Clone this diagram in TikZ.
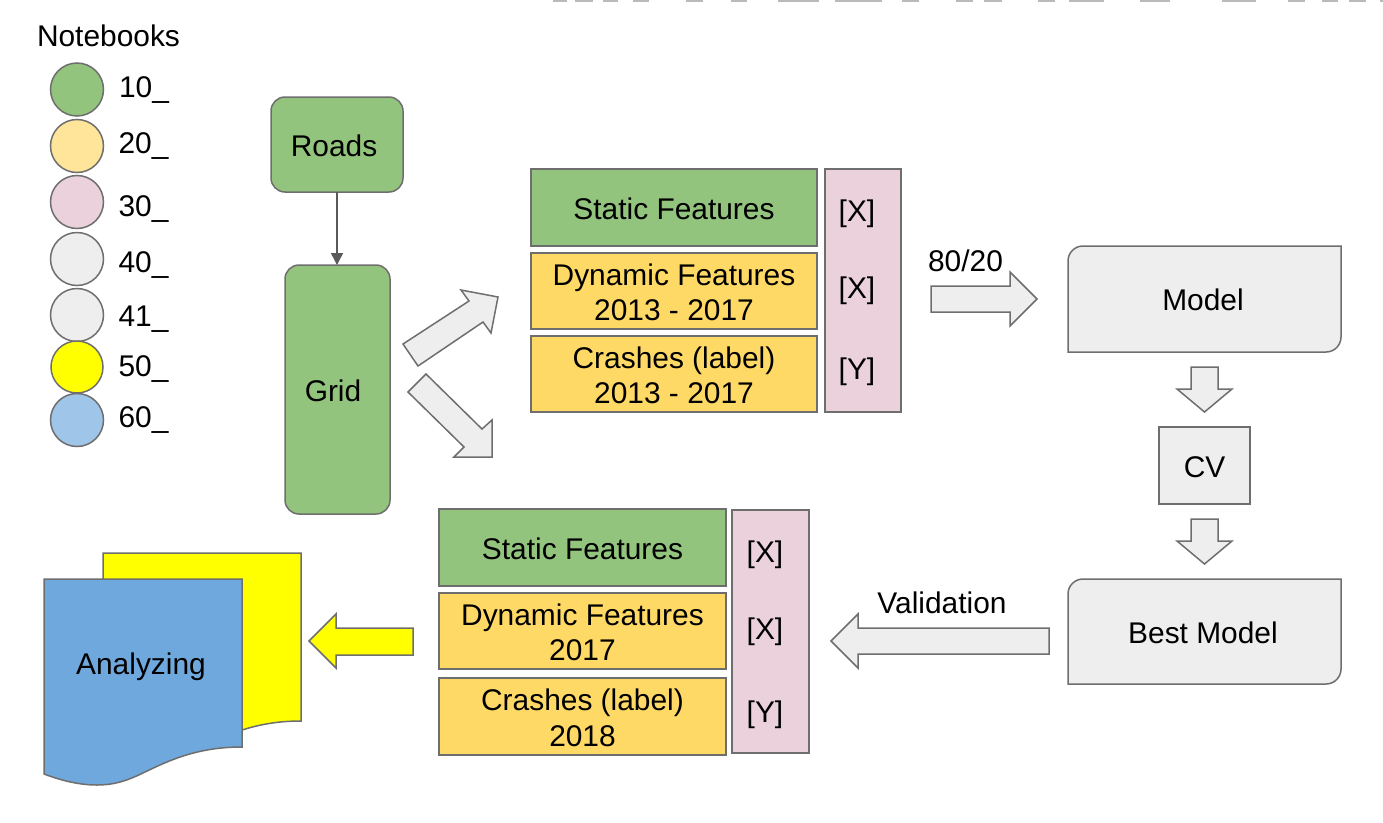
\documentclass[tikz,border=0pt]{standalone}
\usepackage{fontspec}
\setmainfont{Liberation Sans}
\usetikzlibrary{arrows.meta,backgrounds}
\definecolor{bord}{HTML}{6E6E6E}
\definecolor{cgreen}{HTML}{93C47D}
\definecolor{corange}{HTML}{FFD966}
\definecolor{clight}{HTML}{FFE599}
\definecolor{cpink}{HTML}{EAD1DC}
\definecolor{cgrey}{HTML}{EEEEEE}
\definecolor{cyell}{HTML}{FFFF00}
\definecolor{cblue}{HTML}{6FA8DC}
\definecolor{cpale}{HTML}{9FC5E8}
\newcommand{\mstrut}{\rule{0pt}{24pt}}
\tikzset{
  every node/.style={font=\fontsize{29.9}{35.5}\selectfont,text=black,inner sep=0pt,outer sep=0pt},
  outlined/.style={draw=bord,line width=1.5pt,line join=miter},
  legenddot/.style={circle,outlined,minimum size=53pt},
  lbltext/.style={anchor=base west},
  captext/.style={anchor=base},
  rbox/.style={rectangle,rounded corners=14pt,outlined,fill=cgreen,text height=23pt,text depth=0pt},
  sbox/.style={rectangle,outlined,text height=23pt,text depth=0pt},
  mbox/.style={rectangle,outlined,align=center,text depth=0pt},
  ghostbox/.style={rectangle,text height=23pt,text depth=0pt},
  blockarrow/.style={outlined,fill=cgrey},
  docpage/.style={outlined},
  topbar/.style={fill=black!27,draw=none},
}
\newcommand{\docoutline}{(44,579) -- (242,579) -- (242,747) .. controls (198,747) and (170,760) .. (145,772) .. controls (125,782) and (112,785) .. (97,785) .. controls (78,785) and (60,780) .. (44,774) -- cycle}
\begin{document}
\begin{tikzpicture}[x=1pt,y=-1pt]
\useasboundingbox (0,0) rectangle (1383,822);

% cut-off band at the top edge
\foreach \a/\b in {553/567,575/593,603/618,633/649,686/703,731/747,778/819,835/882,902/919,956/973,984/1002,1038/1055,1069/1104,1140/1170,1222/1256,1288/1305,1322/1338,1349/1366,1380/1383}
  \fill[topbar] (\a,0) rectangle (\b,1.6);

% legend
\node[lbltext] (nb) at (37,46) {Notebooks};
\node[legenddot,fill=cgreen] (d10) at (77,89.5) {};
\node[legenddot,fill=clight] (d20) at (77,146) {};
\node[legenddot,fill=cpink]  (d30) at (77,202) {};
\node[legenddot,fill=cgrey]  (d40) at (77,259) {};
\node[legenddot,fill=cgrey]  (d41) at (77,315) {};
\node[legenddot,fill=cyell,minimum size=52pt]  (d50) at (77,367) {};
\node[legenddot,fill=cpale]  (d60) at (77,420) {};
\node[lbltext] (l10) at (119,97.5)  {10\_};
\node[lbltext] (l20) at (118.5,153.5) {20\_};
\node[lbltext] (l30) at (118.5,216.5) {30\_};
\node[lbltext] (l40) at (118.5,272.5) {40\_};
\node[lbltext] (l41) at (118.5,326.5) {41\_};
\node[lbltext] (l50) at (118.5,376.5) {50\_};
\node[lbltext] (l60) at (118.5,427) {60\_};

% roads and grid
\node[rbox,minimum width=132pt,minimum height=95pt] (roads) at (337,144.5) {\hspace*{-6pt}Roads};
\node[rbox,minimum width=105pt,minimum height=249pt] (grid) at (337.5,389.5) {\hspace*{-9pt}Grid};
\draw[draw=black!65,line width=1.5pt,-{Triangle[length=12pt,width=12pt]}] (roads.south) -- (roads.south |- grid.north);

% upper table
\node[sbox,fill=cgreen,minimum width=286pt,minimum height=77pt] (s1) at (674,207.5) {Static Features};
\node[mbox,fill=corange,minimum width=286pt,minimum height=76pt] (dy1) at (674,291) {\mstrut Dynamic Features\\2013 - 2017};
\node[mbox,fill=corange,minimum width=286pt,minimum height=76pt] (cr1) at (674,374) {\mstrut Crashes (label)\\2013 - 2017};
\node[sbox,fill=cpink,minimum width=76pt,minimum height=243pt] (p1) at (863,290.5) {};
\node[captext] (x11) at (857,221) {[X]};
\node[captext] (x12) at (857,298) {[X]};
\node[captext] (y1)  at (857,379.5) {[Y]};

% lower table
\node[sbox,fill=cgreen,minimum width=287pt,minimum height=77pt] (s2) at (582.5,547.5) {Static Features};
\node[mbox,fill=corange,minimum width=287pt,minimum height=76pt] (dy2) at (582.5,631) {\mstrut Dynamic Features\\2017};
\node[mbox,fill=corange,minimum width=287pt,minimum height=77pt] (cr2) at (582.5,716.5) {\mstrut Crashes (label)\\2018};
\node[sbox,fill=cpink,minimum width=77pt,minimum height=243pt] (p2) at (770.5,631.5) {};
\node[captext] (x21) at (765,562) {[X]};
\node[captext] (x22) at (765,639) {[X]};
\node[captext] (y2)  at (765,722) {[Y]};

% model column
\node[ghostbox,minimum width=273pt,minimum height=106pt] (model) at (1204.5,299) {\hspace*{-3pt}Model};
\node[sbox,fill=cgrey,minimum width=91pt,minimum height=77pt] (cv) at (1204.5,465.5) {CV};
\node[ghostbox,minimum width=273pt,minimum height=105pt] (best) at (1204.5,631.5) {\hspace*{-3pt}Best Model};
\begin{scope}[on background layer]
  \draw[outlined,fill=cgrey] (model.south west) [rounded corners=15pt] -- (model.north west) [sharp corners] -- (model.north east) [rounded corners=15pt] -- (model.south east) [sharp corners] -- cycle;
  \draw[outlined,fill=cgrey] (best.south west) [rounded corners=15pt] -- (best.north west) [sharp corners] -- (best.north east) [rounded corners=15pt] -- (best.south east) [sharp corners] -- cycle;
  % analysing documents
  \draw[docpage,fill=cyell,shift={(59,-26)}] \docoutline;
  \draw[docpage,fill=cblue] \docoutline;
\end{scope}
\node[ghostbox] (ana) at (141,662.5) {Analyzing};

% block arrows
\draw[blockarrow] (403,344) -- (418,366) -- (483,322) -- (491,333) -- (498,297) -- (461,290) -- (469,301) -- cycle;
\draw[blockarrow] (408,392) -- (426,374) -- (482,429) -- (492,420) -- (492,457) -- (454,457) -- (464,447) -- cycle;
\draw[blockarrow] (931,286) -- (1010,286) -- (1010,272) -- (1037,299) -- (1010,326) -- (1010,312) -- (931,312) -- cycle;
\draw[blockarrow] (1191,367) -- (1218,367) -- (1218,389) -- (1232,389) -- (1204.5,412) -- (1177,389) -- (1191,389) -- cycle;
\draw[blockarrow] (1191,519) -- (1218,519) -- (1218,541) -- (1232,541) -- (1204.5,564) -- (1177,541) -- (1191,541) -- cycle;
\draw[blockarrow] (1049,628) -- (858,628) -- (858,614) -- (831,641) -- (858,668) -- (858,654) -- (1049,654) -- cycle;
\draw[blockarrow,fill=cyell] (413,628) -- (336,628) -- (336,614) -- (309,641) -- (336,668) -- (336,655) -- (413,655) -- cycle;

% arrow captions
\node[captext] (split) at (965.5,271) {80/20};
\node[captext] (val) at (942,613) {Validation};
\end{tikzpicture}
\end{document}
